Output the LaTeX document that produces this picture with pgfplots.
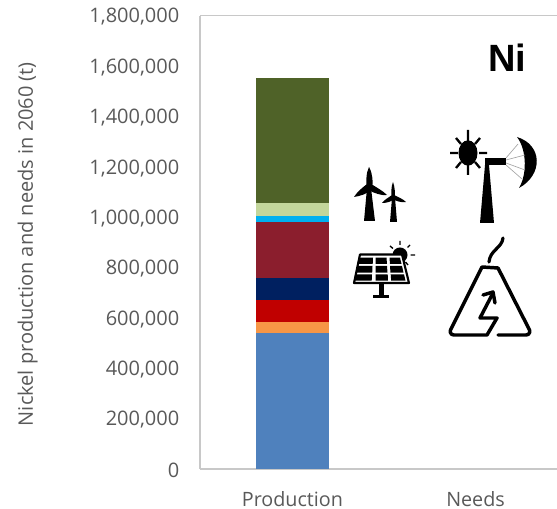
\documentclass[border=0pt]{standalone}
\usepackage{pgfplots}
\pgfplotsset{compat=1.18}
\usepackage{fontspec}
\setmainfont{Open Sans}
\newfontfamily\arialb{Liberation Sans}
\definecolor{axisgrey}{HTML}{C8C8C8}
\definecolor{textgrey}{HTML}{595959}
\definecolor{sblue}{HTML}{4F81BD}
\definecolor{sorange}{HTML}{F79646}
\definecolor{sred}{HTML}{C00000}
\definecolor{snavy}{HTML}{002060}
\definecolor{smaroon}{HTML}{8B1E2D}
\definecolor{scyan}{HTML}{00B0F0}
\definecolor{slgreen}{HTML}{C3D69B}
\definecolor{solive}{HTML}{4F6228}
\begin{document}
\begin{tikzpicture}
\useasboundingbox (0pt,0pt) rectangle (417.75pt,381.75pt);
\begin{axis}[
  at={(150pt,30pt)},anchor=south west,
  scale only axis,
  width=267.75pt,height=340pt,
  clip=false,
  xmin=-0.505,xmax=1.445,
  ymin=0,ymax=1800000,
  axis x line*=bottom,
  axis y line*=left,
  axis line style={draw=axisgrey,line width=0.9pt,-},
  tick style={draw=none},
  ytick={0,200000,...,1800000},
  xtick={0,1},
  xticklabels={Production,Needs},
  scaled y ticks=false,
  /pgf/number format/assume math mode=true,
  /pgf/number format/fixed,
  /pgf/number format/1000 sep={,},
  tick label style={font=\fontsize{15}{18}\selectfont,text=textgrey},
  yticklabel style={xshift=-12pt,yshift=-1pt},
  xticklabel style={yshift=-13pt,font=\fontsize{14.8}{18}\selectfont},
  ylabel={Nickel production and needs in 2060 (t)},
  ylabel style={font=\fontsize{15}{18}\selectfont,text=textgrey,at={(axis description cs:-0.483,0.496)},anchor=center},
  ybar stacked,
  bar width=54.75pt,
]
\addplot[fill=sblue,draw=none] coordinates {(0,539000) (1,0)};
\addplot[fill=sorange,draw=none] coordinates {(0,43000) (1,0)};
\addplot[fill=sred,draw=none] coordinates {(0,90000) (1,0)};
\addplot[fill=snavy,draw=none] coordinates {(0,87000) (1,0)};
\addplot[fill=smaroon,draw=none] coordinates {(0,222000) (1,0)};
\addplot[fill=scyan,draw=none] coordinates {(0,23000) (1,0)};
\addplot[fill=slgreen,draw=none] coordinates {(0,51000) (1,0)};
\addplot[fill=solive,draw=none] coordinates {(0,497000) (1,0)};
\end{axis}
\begin{scope}[x=0.75pt,y=-0.75pt,yshift=381.75pt]
\draw[axisgrey,line width=0.9pt] (200,15.6) -- (557,15.6);
\node[font=\arialb\fontsize{28.5}{30}\selectfont\bfseries,text=black] at (507,58) {Ni};
% wind turbines
\fill[black] (364,221) -- (367,188) -- (371,188) -- (375,221) -- cycle;
\fill[black] (369,167) .. controls (373,174) and (373,182) .. (372,190) -- (367,190) .. controls (366,181) and (366,173) .. (369,167) -- cycle;
\fill[black] (367,184) .. controls (362,188) and (357,192) .. (354,197) .. controls (360,196) and (367,194) .. (371,190) -- cycle;
\fill[black] (371,184) .. controls (376,187) and (383,191) .. (387,195) .. controls (382,196) and (374,193) .. (368,190) -- cycle;
\fill[black] (390,222) -- (392,198) -- (395,198) -- (397,222) -- cycle;
\fill[black] (393,182) .. controls (395,187) and (395,193) .. (395,199) -- (392,199) .. controls (391,193) and (391,187) .. (393,182) -- cycle;
\fill[black] (392,195) .. controls (388,198) and (384,200) .. (382,203) .. controls (386,203) and (391,202) .. (394,199) -- cycle;
\fill[black] (394,195) .. controls (398,197) and (403,199) .. (406,202) .. controls (402,203) and (396,201) .. (392,199) -- cycle;
% solar panel
\fill[black] (400,255) circle (7.5);
\draw[black,line width=1pt] (390,246)--(393,248.5) (400,241)--(400,245) (410,245)--(407.5,247.5) (415,255)--(410.5,255) (408,265)--(405.5,262);
\filldraw[draw=black,fill=white,line width=1.6pt,line join=round] (360,254.5) -- (402,254.5) -- (409,283) -- (354,283) -- cycle;
\fill[black] (359,257.7) -- (373,257.7) -- (372.7,264) -- (358,264) -- cycle;
\fill[black] (375.5,257.7) -- (386.5,257.7) -- (387,264) -- (375.5,264) -- cycle;
\fill[black] (389.5,257.7) -- (400,257.7) -- (401.5,264) -- (390,264) -- cycle;
\fill[black] (357.5,266) -- (372.5,266) -- (372.2,272.7) -- (356.5,272.7) -- cycle;
\fill[black] (375.5,266) -- (387,266) -- (387.5,272.7) -- (375.5,272.7) -- cycle;
\fill[black] (390,266) -- (402,266) -- (403.5,272.7) -- (390.5,272.7) -- cycle;
\fill[black] (356,274.3) -- (372,274.3) -- (371.7,280.7) -- (355,280.7) -- cycle;
\fill[black] (375.5,274.3) -- (387.7,274.3) -- (388,280.7) -- (375.5,280.7) -- cycle;
\fill[black] (390.7,274.3) -- (404,274.3) -- (405.5,280.7) -- (391.2,280.7) -- cycle;
\fill[black] (379,284) rectangle (384,296);
\fill[black] (373,295) rectangle (389,298.5);
% sun + dish
\fill[black] (468,153) ellipse (9.5 and 12.7);
\draw[black,line width=1.75pt] (468,130)--(468,141) (468,164)--(468,175) (450,153)--(458,153) (479,153)--(487,153)
 (456,138)--(461,144) (480,138)--(475,144) (456,168)--(461,162) (480,168)--(475,162);
\fill[black] (485,158) rectangle (506,165);
\fill[black] (480,223) -- (485,165) -- (489,165) -- (494,223) -- cycle;
\fill[black] (517,137) .. controls (543,145) and (543,175) .. (519,188) .. controls (527,175) and (527,150) .. (517,137) -- cycle;
\draw[gray!70,line width=0.5pt] (506,158)--(518,144) (506,160)--(525,155) (506,163)--(525,170) (506,165)--(522,179);
% volcano
\draw[black,line width=2.6pt,line join=round,line cap=round] (498,335) -- (526,335) .. controls (530,335) and (531,331) .. (528,327) -- (498,268) -- (482,267) -- (452,327) .. controls (449,331) and (450,335) .. (454,335) -- (487,335) -- (497,318) -- (480,318) -- (493,293);
\draw[black,line width=2.6pt,line join=round,line cap=round] (483,295) -- (493,292) -- (495,303);
\draw[black,line width=2.4pt,line join=round,line cap=round] (503,238) .. controls (502,248) and (490,250) .. (489,262);
\end{scope}
\end{tikzpicture}
\end{document}
